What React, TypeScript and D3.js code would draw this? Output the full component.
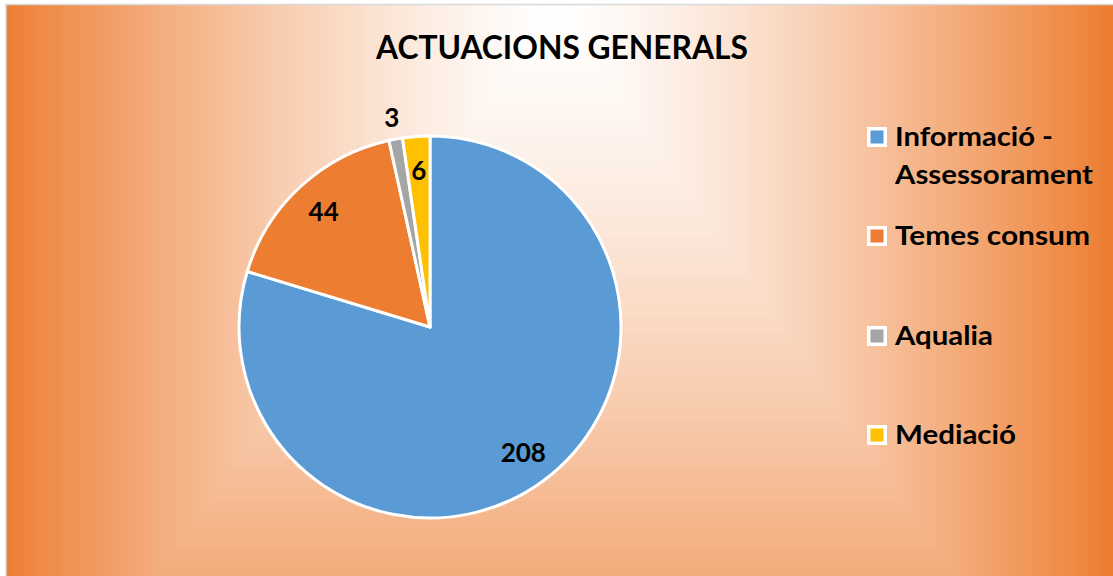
import React from "react";
import * as d3 from "d3";

const categories = ["Informació - Assessorament", "Temes consum", "Aqualia", "Mediació"];
const values = [208, 44, 3, 6];
const legendLines = [["Informació -", "Assessorament"], ["Temes consum"], ["Aqualia"], ["Mediació"]];
const legendWidths = [[158, 198], [195], [98], [121]];
const colors = ["#5B9BD5", "#ED7D31", "#A5A5A5", "#FFC000"];
const title = "ACTUACIONS GENERALS";

const W = 1113;
const H = 576;
const FONT = "Lato, 'Open Sans', sans-serif";

export default function App() {
  const cx = 430, cy = 327, r = 191;
  const pie = d3.pie<number>().sort(null).value((d) => d);
  const arcs = pie(values);
  const arc = d3.arc<d3.PieArcDatum<number>>().innerRadius(0).outerRadius(r);
  const labelArcIn = d3.arc<d3.PieArcDatum<number>>().innerRadius(r * 0.82).outerRadius(r * 0.82);
  const labelArcOut = d3.arc<d3.PieArcDatum<number>>().innerRadius(r + 22).outerRadius(r + 22);

  // background rectangular path gradient (Excel-like) centered at top middle
  const gcx = 556, gcy = 5, gw = 560, gh = 800;
  const steps = 100;
  const colorI = d3.interpolateRgb("#ffffff", "#ED7D31");
  const bgRects = d3.range(steps, 0, -1).map((i) => {
    const s = i / steps;
    return { s, fill: colorI(Math.pow(s, 1.35)) };
  });

  const legendY = [137, 236, 336, 435];

  return (
    <svg width={W} height={H} style={{ position: "absolute", left: 0, top: 0 }}>
      <defs>
        <clipPath id="chartClip">
          <rect x={6} y={4.5} width={1120} height={600} />
        </clipPath>
      </defs>
      <rect x={0} y={0} width={W} height={H} fill="#ffffff" />
      <g clipPath="url(#chartClip)">
        <rect x={6} y={4.5} width={1120} height={600} fill="#ED7D31" />
        {bgRects.map((b, i) => (
          <rect
            key={i}
            x={gcx - gw * b.s}
            y={gcy - gh * b.s}
            width={2 * gw * b.s}
            height={2 * gh * b.s}
            fill={b.fill}
          />
        ))}
      </g>
      <rect x={6} y={4.5} width={1120} height={600} fill="none" stroke="#D9D9D9" strokeWidth={1.5} />

      <text
        x={562}
        y={59}
        textAnchor="middle"
        fontFamily={FONT}
        fontWeight="bold"
        fontSize={33}
        textLength={372}
        lengthAdjust="spacingAndGlyphs"
        fill="#000"
      >
        {title}
      </text>

      <g transform={`translate(${cx},${cy})`}>
        {arcs.map((a, i) => (
          <path key={i} d={arc(a) || ""} fill={colors[i]} stroke="#ffffff" strokeWidth={3} strokeLinejoin="round" />
        ))}
        {arcs.map((a, i) => {
          const ang = a.endAngle - a.startAngle;
          const outside = ang < (6 * Math.PI) / 180;
          const [lx, ly] = (outside ? labelArcOut : labelArcIn).centroid(a);
          return (
            <text
              key={"l" + i}
              x={lx}
              y={ly}
              dy="0.36em"
              textAnchor="middle"
              fontFamily={FONT}
              fontWeight="bold"
              fontSize={26}
              fill="#000"
            >
              {values[i]}
            </text>
          );
        })}
      </g>

      {categories.map((c, i) => (
        <g key={c}>
          <rect x={867} y={legendY[i] - 10} width={20} height={20} fill="#ffffff" />
          <rect x={870.5} y={legendY[i] - 6.5} width={13} height={13} fill={colors[i]} />
          {legendLines[i].map((line, j) => (
            <text
              key={j}
              x={895}
              y={legendY[i] + 9 + j * 38}
              fontFamily={FONT}
              fontWeight="bold"
              fontSize={27.5}
              textLength={legendWidths[i][j]}
              lengthAdjust="spacingAndGlyphs"
              fill="#000"
            >
              {line}
            </text>
          ))}
        </g>
      ))}
    </svg>
  );
}
